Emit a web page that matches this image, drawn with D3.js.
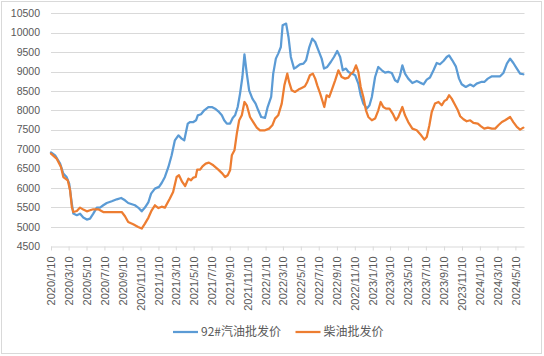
<!DOCTYPE html>
<html><head><meta charset="utf-8">
<script src="https://cdn.jsdelivr.net/npm/d3@7"></script>
<style>html,body{margin:0;padding:0;background:#fff;}svg{display:block;}</style>
</head><body>
<svg id="chart" width="544" height="356"></svg>
<script>
const seriesNames = ["92#汽油批发价", "柴油批发价"];
const yTicks = [4500,5000,5500,6000,6500,7000,7500,8000,8500,9000,9500,10000,10500];
const xTickLabels = ["2020/1/10","2020/3/10","2020/5/10","2020/7/10","2020/9/10","2020/11/10",
  "2021/1/10","2021/3/10","2021/5/10","2021/7/10","2021/9/10","2021/11/10",
  "2022/1/10","2022/3/10","2022/5/10","2022/7/10","2022/9/10","2022/11/10",
  "2023/1/10","2023/3/10","2023/5/10","2023/7/10","2023/9/10","2023/11/10",
  "2024/1/10","2024/3/10","2024/5/10"];
const xDomain = ["2020-01-10","2024-06-10"];

const gasDates = ["2020-01-10","2020-01-24","2020-02-10","2020-02-21","2020-03-03","2020-03-12","2020-03-21","2020-03-26","2020-04-07","2020-04-18","2020-04-29","2020-05-11","2020-05-22","2020-06-02","2020-06-14","2020-06-25","2020-07-06","2020-07-18","2020-08-04","2020-08-21","2020-09-05","2020-09-18","2020-09-29","2020-10-22","2020-11-02","2020-11-14","2020-11-25","2020-12-07","2020-12-16","2020-12-29",
"2021-01-12","2021-01-21","2021-02-01","2021-02-13","2021-02-24","2021-03-07","2021-03-19","2021-03-30","2021-04-08","2021-04-20","2021-04-28","2021-05-09","2021-05-18","2021-05-24","2021-06-04","2021-06-15","2021-06-29","2021-07-11","2021-07-22","2021-08-02","2021-08-14","2021-08-22","2021-08-31","2021-09-11","2021-09-20","2021-09-28","2021-10-07","2021-10-15","2021-10-23","2021-10-30","2021-11-07","2021-11-15","2021-11-26","2021-12-07","2021-12-16","2021-12-26",
"2022-01-08","2022-01-17","2022-01-29","2022-02-05","2022-02-14","2022-02-22","2022-03-03","2022-03-09","2022-03-21","2022-03-29","2022-04-06","2022-04-17","2022-04-26","2022-05-07","2022-05-19","2022-05-28","2022-06-08","2022-06-18","2022-06-28","2022-07-09","2022-07-20","2022-07-28","2022-08-08","2022-08-20","2022-08-31","2022-09-11","2022-09-21","2022-09-30","2022-10-11","2022-10-19","2022-10-31","2022-11-11","2022-11-22","2022-11-30","2022-12-09","2022-12-21","2022-12-30",
"2023-01-07","2023-01-18","2023-01-29","2023-02-10","2023-02-21","2023-03-04","2023-03-16","2023-03-27","2023-04-05","2023-04-13","2023-04-21","2023-04-30","2023-05-11","2023-05-25","2023-06-09","2023-06-20","2023-07-02","2023-07-13","2023-07-24","2023-08-05","2023-08-16","2023-08-27","2023-09-08","2023-09-19","2023-09-27","2023-10-08","2023-10-20","2023-10-31","2023-11-09","2023-11-23","2023-12-08","2023-12-19","2023-12-30",
"2024-01-14","2024-01-25","2024-02-06","2024-02-20","2024-03-02","2024-03-19","2024-03-30","2024-04-11","2024-04-22","2024-05-03","2024-05-15","2024-05-26","2024-06-06"];
const gasValues = [6920,6843,6630,6372,6285,6114,5600,5342,5300,5340,5240,5188,5213,5342,5497,5497,5556,5615,5660,5710,5745,5685,5615,5556,5497,5400,5497,5640,5857,5985,
6030,6130,6285,6543,6843,7230,7358,7273,7230,7660,7700,7700,7745,7873,7900,8002,8087,8087,8045,7977,7873,7745,7660,7660,7805,7873,8087,8432,8860,9444,8947,8517,8303,8175,8002,7830,
7805,8087,8345,8947,9333,9462,9632,10191,10235,9890,9375,9076,9118,9187,9205,9290,9632,9848,9761,9547,9333,9076,9118,9246,9375,9530,9375,9032,9076,8990,8947,8904,8690,8389,8175,8046,8131,
8345,8860,9118,9032,8973,8990,8963,8775,8732,8904,9161,8947,8818,8705,8757,8715,8672,8793,8845,9032,9220,9187,9272,9375,9418,9290,9135,8818,8672,8603,8664,8620,8690,
8732,8732,8818,8878,8878,8878,8963,9205,9333,9220,9076,8947,8930];

const dieselDates = ["2020-01-10","2020-01-29","2020-02-13","2020-02-21","2020-03-07","2020-03-15","2020-03-21","2020-03-26","2020-04-07","2020-04-18","2020-04-29","2020-05-11","2020-05-22","2020-06-02","2020-06-19","2020-07-06","2020-07-23","2020-09-07","2020-09-18","2020-09-29","2020-10-16","2020-11-02","2020-11-14","2020-11-25","2020-12-07","2020-12-18","2020-12-29",
"2021-01-10","2021-01-21","2021-02-01","2021-02-18","2021-03-01","2021-03-13","2021-03-21","2021-04-01","2021-04-11","2021-04-22","2021-05-01","2021-05-09","2021-05-17","2021-05-22","2021-06-01","2021-06-09","2021-06-20","2021-07-01","2021-07-16","2021-08-02","2021-08-16","2021-08-25","2021-09-03","2021-09-11","2021-09-17","2021-09-26","2021-10-04","2021-10-12","2021-10-21","2021-10-30","2021-11-07","2021-11-18","2021-11-29","2021-12-11","2021-12-22",
"2022-01-08","2022-01-22","2022-02-02","2022-02-11","2022-02-22","2022-03-06","2022-03-15","2022-03-25","2022-03-31","2022-04-09","2022-04-20","2022-05-02","2022-05-13","2022-05-24","2022-06-01","2022-06-10","2022-06-20","2022-06-28","2022-07-05","2022-07-15","2022-07-22","2022-07-29","2022-08-06","2022-08-15","2022-08-23","2022-09-04","2022-09-15","2022-09-26","2022-10-08","2022-10-19","2022-10-28","2022-11-05","2022-11-14","2022-11-22","2022-11-30","2022-12-09","2022-12-18","2022-12-26",
"2023-01-07","2023-01-18","2023-01-29","2023-02-06","2023-02-15","2023-02-24","2023-03-08","2023-03-19","2023-03-30","2023-04-07","2023-04-21","2023-04-30","2023-05-11","2023-05-25","2023-06-09","2023-06-24","2023-07-05","2023-07-13","2023-07-22","2023-07-30","2023-08-10","2023-08-22","2023-09-02","2023-09-11","2023-09-19","2023-09-27","2023-10-06","2023-10-18","2023-10-27","2023-11-04","2023-11-15","2023-11-26","2023-12-08","2023-12-19",
"2024-01-03","2024-01-14","2024-01-25","2024-02-06","2024-02-20","2024-03-02","2024-03-13","2024-03-25","2024-04-05","2024-04-22","2024-05-03","2024-05-15","2024-05-26","2024-06-06"];
const dieselValues = [6887,6760,6543,6285,6200,5942,5513,5383,5410,5497,5445,5400,5427,5453,5453,5383,5383,5383,5273,5125,5067,4997,4956,5085,5240,5427,5556,
5485,5520,5497,5730,5900,6285,6330,6157,6053,6243,6200,6270,6285,6475,6475,6560,6630,6655,6586,6475,6372,6285,6330,6457,6843,6972,7402,7745,7873,8216,8131,7830,7700,7557,7487,
7487,7530,7616,7788,7873,8175,8646,8947,8732,8517,8474,8535,8577,8620,8732,8904,8947,8818,8646,8432,8260,8087,8389,8345,8517,8775,9032,8860,8818,8845,8947,8990,9160,8990,8603,8345,8002,7830,
7745,7788,8002,8216,8087,8046,8046,7917,7745,7830,8087,7873,7700,7530,7487,7358,7248,7315,7616,7958,8175,8216,8131,8242,8277,8389,8303,8131,8002,7848,7771,7720,7745,7676,
7660,7590,7530,7557,7530,7530,7616,7700,7745,7830,7700,7573,7505,7557];

const colors = ["#5B9BD5", "#ED7D31"];
const parse = d3.timeParse("%Y-%m-%d");
const parseTick = d3.timeParse("%Y/%m/%d");

const svg = d3.select("#chart");
svg.append("rect").attr("x",1.5).attr("y",1.5).attr("width",540).attr("height",352)
  .attr("fill","#fff").attr("stroke","#D9D9D9").attr("stroke-width",1);

const x = d3.scaleTime().domain(xDomain.map(parse)).range([51, 524.5]);
const y = d3.scaleLinear().domain([4500, 10500]).range([246.3, 13.3]);

// gridlines
svg.append("g").selectAll("line").data(yTicks.slice(1)).join("line")
  .attr("x1", 51).attr("x2", 524.5)
  .attr("y1", d => Math.round(y(d)) + 0.5).attr("y2", d => Math.round(y(d)) + 0.5)
  .attr("stroke", "#D9D9D9").attr("stroke-width", 1);

// y labels
svg.append("g").selectAll("text").data(yTicks).join("text")
  .attr("x", 40).attr("y", d => y(d)).attr("dy", "0.35em")
  .attr("text-anchor", "end")
  .attr("font-family", "Liberation Sans, Arial, sans-serif").attr("font-size", "10.5px")
  .attr("fill", "#595959").text(d => d);

// x axis
const tickDates = xTickLabels.map(parseTick);
const xAxis = d3.axisBottom(x).tickValues(tickDates).tickSize(4).tickFormat((d,i) => xTickLabels[i]);
const gx = svg.append("g").attr("transform", `translate(0,${Math.round(y(4500)) + 0.5})`).call(xAxis);
gx.select(".domain").attr("stroke", "#D9D9D9").attr("d", `M51,0.5H524.5`);
gx.selectAll(".tick line").attr("stroke", "#D9D9D9");
gx.selectAll(".tick text")
  .attr("font-family", "Liberation Sans, Arial, sans-serif").attr("font-size", "11px")
  .attr("fill", "#595959")
  .attr("text-anchor", "end")
  .attr("transform", "rotate(-90)")
  .attr("x", -10).attr("y", 0).attr("dy", "0.35em");

// lines
const series = [
  gasDates.map((d,i) => ({date: parse(d), value: gasValues[i]})),
  dieselDates.map((d,i) => ({date: parse(d), value: dieselValues[i]}))
];
const line = d3.line().x(d => x(d.date)).y(d => y(d.value));
svg.append("g").selectAll("path").data(series).join("path")
  .attr("d", line).attr("fill", "none")
  .attr("stroke", (d,i) => colors[i]).attr("stroke-width", 2.25)
  .attr("stroke-linejoin", "round").attr("stroke-linecap", "round");

// legend
const legendX = [173, 295.5];
const lg = svg.append("g").selectAll("g").data(seriesNames).join("g")
  .attr("transform", (d,i) => `translate(${legendX[i]},332)`);
lg.append("line").attr("x1", 0).attr("x2", 25).attr("y1", 0).attr("y2", 0)
  .attr("stroke", (d,i) => colors[i]).attr("stroke-width", 2.25);
lg.append("text").attr("x", 28).attr("y", 0).attr("dy", "0.35em")
  .attr("font-family", "Noto Sans CJK SC, sans-serif").attr("font-size", "12px")
  .attr("fill", "#595959").text(d => d);
</script>
</body></html>
